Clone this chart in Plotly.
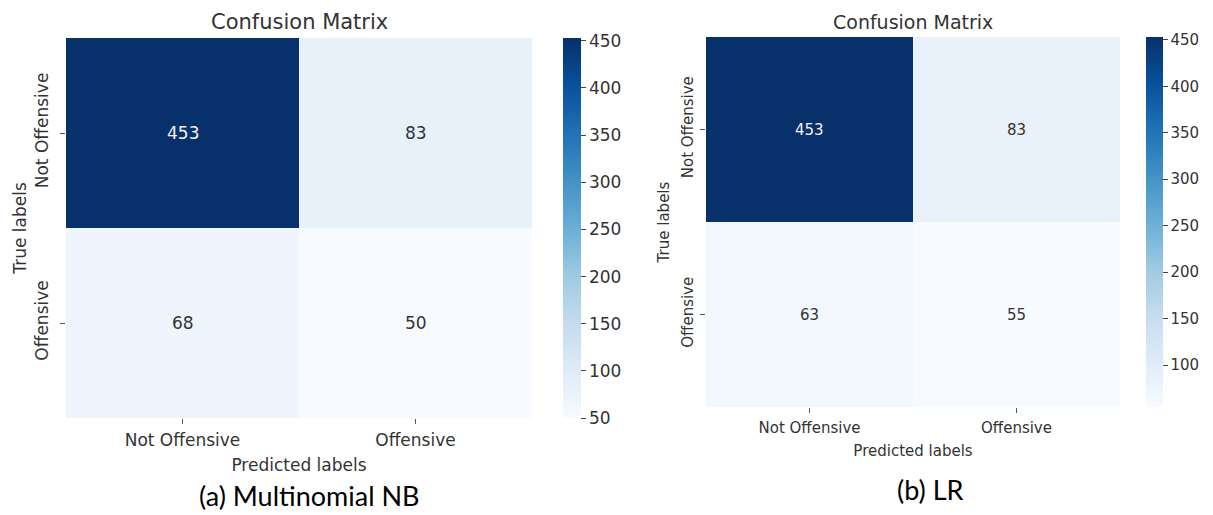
import plotly.graph_objects as go

# ---- data ----
pred_labels = ["Not Offensive", "Offensive"]
true_labels = ["Not Offensive", "Offensive"]
nb_values = [[453, 83], [68, 50]]
lr_values = [[453, 83], [63, 55]]
nb_cbar_ticks = [50, 100, 150, 200, 250, 300, 350, 400, 450]
lr_cbar_ticks = [100, 150, 200, 250, 300, 350, 400, 450]
panel_titles = ["Confusion Matrix", "Confusion Matrix"]
captions = ["(a) Multinomial NB", "(b) LR"]
x_title = "Predicted labels"
y_title = "True labels"

W, H = 1213, 515
blues = [[0.0, "#f7fbff"], [0.125, "#deebf7"], [0.25, "#c6dbef"], [0.375, "#9ecae1"],
         [0.5, "#6baed6"], [0.625, "#4292c6"], [0.75, "#2171b5"], [0.875, "#08519c"],
         [1.0, "#08306b"]]
MPL = "DejaVu Sans"
TXT = "#333333"

def px_x(p):
    return p / W

def px_y(p):
    return 1 - p / H

panels = [
    dict(z=nb_values, ticks=nb_cbar_ticks, xd=(66, 532), yd=(38, 418), cb=(563, 18),
         fs=17, tfs=21, title_y=22, cap=captions[0], cap_x=309, cap_y=495, capfs=27,
         xstand=2, xtitle_stand=9, ylab_stand=5, ytitle_stand=1),
    dict(z=lr_values, ticks=lr_cbar_ticks, xd=(706, 1120), yd=(37, 407), cb=(1146, 17),
         fs=15, tfs=19, title_y=22, cap=captions[1], cap_x=930, cap_y=489, capfs=27,
         xstand=2, xtitle_stand=9, ylab_stand=1, ytitle_stand=5),
]

fig = go.Figure()
annotations = []
for i, p in enumerate(panels):
    sfx = "" if i == 0 else str(i + 1)
    xa, ya = "x" + sfx, "y" + sfx
    flat = [v for row in p["z"] for v in row]
    zmin, zmax = min(flat), max(flat)
    fig.add_trace(go.Heatmap(
        z=p["z"], x=pred_labels, y=true_labels, xaxis=xa, yaxis=ya,
        colorscale=blues, zmin=zmin, zmax=zmax, hoverinfo="skip",
        colorbar=dict(
            x=px_x(p["cb"][0]), xanchor="left", xpad=0,
            y=px_y(p["yd"][1]), yanchor="bottom", ypad=0,
            len=(p["yd"][1] - p["yd"][0]) / H, lenmode="fraction",
            thickness=p["cb"][1], thicknessmode="pixels", outlinewidth=0,
            tickvals=p["ticks"], ticks="outside", ticklen=5, tickwidth=1,
            tickcolor="#444", tickfont=dict(family=MPL, size=p["fs"], color=TXT),
        ),
    ))
    axis_common = dict(showgrid=False, zeroline=False, showline=False, ticks="outside",
                       ticklen=5, tickwidth=1, tickcolor="#555", automargin=False,
                       tickfont=dict(family=MPL, size=p["fs"], color=TXT))
    fig.update_layout(**{
        ("xaxis" + sfx): dict(axis_common, domain=[px_x(p["xd"][0]), px_x(p["xd"][1])],
                               anchor=ya, ticklabelstandoff=p["xstand"],
                               title=dict(text=x_title, standoff=p["xtitle_stand"],
                                          font=dict(family=MPL, size=p["fs"], color=TXT))),
        ("yaxis" + sfx): dict(axis_common, domain=[px_y(p["yd"][1]), px_y(p["yd"][0])],
                               anchor=xa, autorange="reversed", tickangle=-90,
                               ticklabelstandoff=p["ylab_stand"],
                               title=dict(text=y_title, standoff=p["ytitle_stand"],
                                          font=dict(family=MPL, size=p["fs"], color=TXT))),
    })
    for r, tl in enumerate(true_labels):
        for c, pl in enumerate(pred_labels):
            v = p["z"][r][c]
            col = "#f2f2f2" if v > (zmin + zmax) / 2 else TXT
            annotations.append(dict(x=pl, y=tl, xref=xa, yref=ya, text=str(v),
                                    showarrow=False,
                                    font=dict(family=MPL, size=p["fs"], color=col)))
    annotations.append(dict(x=(px_x(p["xd"][0]) + px_x(p["xd"][1])) / 2, y=px_y(p["title_y"]),
                            xref="paper", yref="paper", text=panel_titles[i], showarrow=False,
                            xanchor="center", yanchor="middle",
                            font=dict(family=MPL, size=p["tfs"], color=TXT)))
    annotations.append(dict(x=px_x(p["cap_x"]), y=px_y(p["cap_y"]), xref="paper", yref="paper",
                            text=p["cap"], showarrow=False, xanchor="center", yanchor="middle",
                            font=dict(family="Lato", size=p["capfs"], color="#000000")))

fig.update_layout(width=W, height=H, margin=dict(l=0, r=0, t=0, b=0, autoexpand=False),
                  paper_bgcolor="white", plot_bgcolor="white",
                  annotations=annotations, showlegend=False)
fig.write_html("out.html", config={"displayModeBar": False},
               post_script="document.body.style.margin='0px';document.body.style.overflow='hidden';")
